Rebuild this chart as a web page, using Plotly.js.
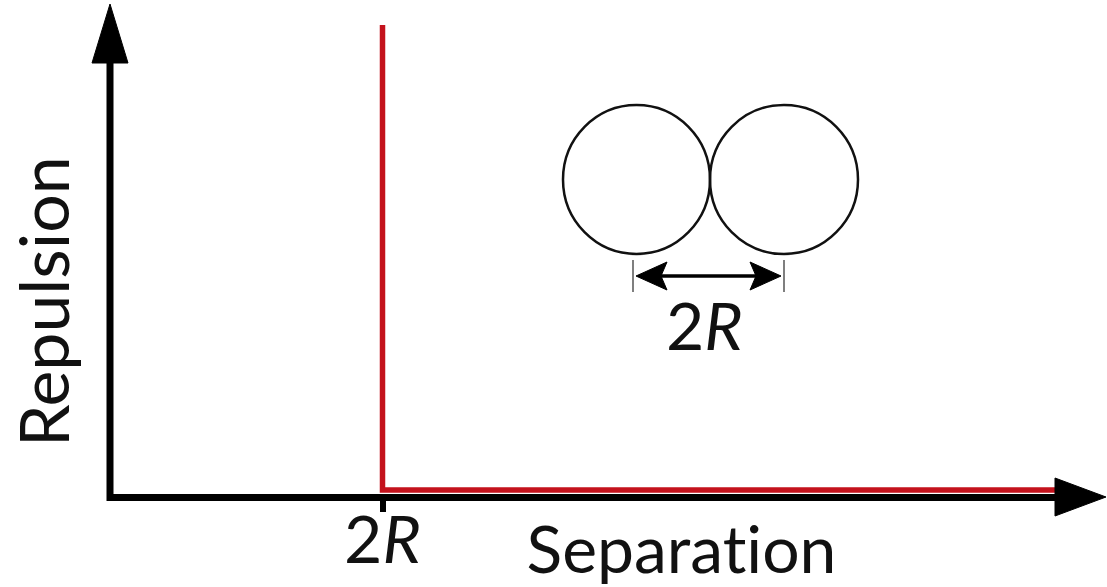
<!DOCTYPE html>
<html>
<head>
<meta charset="utf-8">
<script src="https://cdn.plot.ly/plotly-3.0.1.min.js"></script>
<style>
  html, body { margin: 0; padding: 0; background: #fff; }
  #chart { width: 1107px; height: 587px; }
  #chart text { font-variant-ligatures: none; font-feature-settings: "liga" 0, "clig" 0; }
</style>
</head>
<body>
<div id="chart"></div>
<script>
// Hard-sphere repulsion vs separation (separation in units of R)
const separation = [2, 2, 7];
const repulsion = [10, 0, 0];
const xTickVals = [2];
const xTickText = ['2<i>R</i>'];
const xAxisLabel = 'Separation';
const yAxisLabel = 'Repulsion';
const insetLabel = '2<i>R</i>';

const W = 1107, H = 587, B = 90;
const PH = H - B; // plot area height in px
const px = x => x / W;
const py = y => (PH - y) / PH;

// scales: x -> pixel = 113 + x*134.75 ; y -> pixel = 490 - y*46.5
const xs = 134.75, x0px = 113;
const ys = 46.5, y0px = 490;
const xRange = [-x0px / xs, (W - x0px) / xs];
const yRange = [-(PH - y0px) / ys, y0px / ys];

const FONT = 'Lato, "Open Sans", sans-serif';
const FS = 66;
const black = '#000';

const shapes = [
  // y axis line
  {type: 'line', xref: 'paper', yref: 'paper', x0: px(110), x1: px(110), y0: py(60), y1: py(501), line: {color: black, width: 7}},
  // y axis arrowhead
  {type: 'path', xref: 'paper', yref: 'paper',
   path: `M ${px(110)} ${py(4)} L ${px(128)} ${py(63)} L ${px(92)} ${py(63)} Z`,
   fillcolor: black, line: {color: black, width: 1}},
  // x axis line
  {type: 'line', xref: 'paper', yref: 'paper', x0: px(107), x1: px(1058), y0: py(497.5), y1: py(497.5), line: {color: black, width: 7}},
  // x axis arrowhead
  {type: 'path', xref: 'paper', yref: 'paper',
   path: `M ${px(1106)} ${py(497)} L ${px(1055)} ${py(478)} L ${px(1055)} ${py(516)} Z`,
   fillcolor: black, line: {color: black, width: 1}},
  // circles
  {type: 'circle', xref: 'paper', yref: 'paper', x0: px(563), x1: px(710), y0: py(105), y1: py(254), line: {color: '#111', width: 2.5}},
  {type: 'circle', xref: 'paper', yref: 'paper', x0: px(710), x1: px(858), y0: py(105), y1: py(254), line: {color: '#111', width: 2.5}},
  // dimension arrow shaft
  {type: 'line', xref: 'paper', yref: 'paper', x0: px(655), x1: px(762), y0: py(276), y1: py(276), line: {color: black, width: 3.5}},
  // dimension arrowheads
  {type: 'path', xref: 'paper', yref: 'paper',
   path: `M ${px(636)} ${py(276)} L ${px(667)} ${py(262)} L ${px(661)} ${py(276)} L ${px(667)} ${py(290)} Z`,
   fillcolor: black, line: {color: black, width: 1}},
  {type: 'path', xref: 'paper', yref: 'paper',
   path: `M ${px(781)} ${py(276)} L ${px(750)} ${py(262)} L ${px(756)} ${py(276)} L ${px(750)} ${py(290)} Z`,
   fillcolor: black, line: {color: black, width: 1}},
  // dimension end bars
  {type: 'line', xref: 'paper', yref: 'paper', x0: px(633), x1: px(633), y0: py(260), y1: py(292), line: {color: '#555', width: 1.5}},
  {type: 'line', xref: 'paper', yref: 'paper', x0: px(784), x1: px(784), y0: py(260), y1: py(292), line: {color: '#555', width: 1.5}}
];

const annotations = [
  {xref: 'paper', yref: 'paper', x: px(704), y: py(324), text: insetLabel, showarrow: false,
   xanchor: 'center', yanchor: 'middle', font: {family: FONT, size: FS, color: '#111'}},
  {xref: 'paper', yref: 'paper', x: px(681), y: py(547), text: xAxisLabel, showarrow: false,
   xanchor: 'center', yanchor: 'middle', font: {family: FONT, size: FS, color: '#111'}},
  {xref: 'paper', yref: 'paper', x: px(42), y: py(302), text: yAxisLabel, showarrow: false, textangle: -90,
   xanchor: 'center', yanchor: 'middle', font: {family: FONT, size: 68, color: '#111'}}
];

const trace = {
  x: separation, y: repulsion, type: 'scatter', mode: 'lines',
  line: {color: '#c4121c', width: 5.5},
  cliponaxis: false, hoverinfo: 'skip'
};

const layout = {
  width: W, height: H,
  margin: {l: 0, r: 0, t: 0, b: B, pad: 0},
  paper_bgcolor: '#fff', plot_bgcolor: 'rgba(0,0,0,0)',
  showlegend: false,
  xaxis: {
    range: xRange, showgrid: false, zeroline: false, showline: false,
    tickmode: 'array', tickvals: xTickVals, ticktext: xTickText,
    ticks: 'outside', ticklen: 14, tickwidth: 6, tickcolor: black,
    tickfont: {family: FONT, size: FS, color: '#111'}, ticklabelstandoff: -28,
    fixedrange: true
  },
  yaxis: {
    range: yRange, showgrid: false, zeroline: false, showline: false,
    showticklabels: false, ticks: '', fixedrange: true
  },
  shapes: shapes,
  annotations: annotations
};

Plotly.newPlot('chart', [trace], layout, {staticPlot: true, displayModeBar: false});
</script>
</body>
</html>
